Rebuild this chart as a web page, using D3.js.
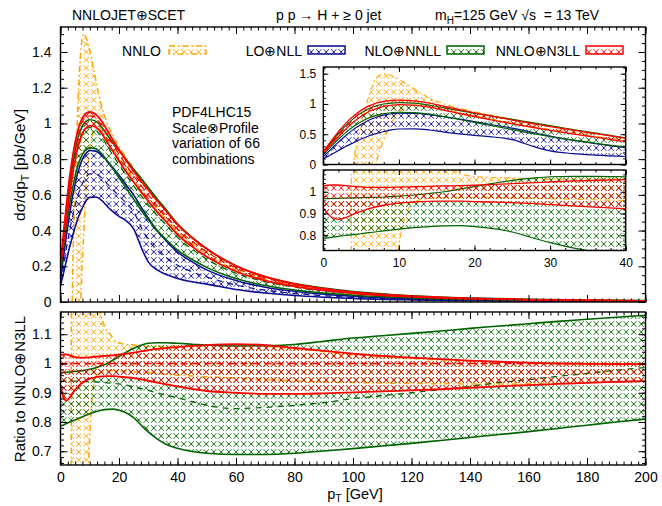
<!DOCTYPE html>
<html>
<head>
<meta charset="utf-8">
<script src="https://cdn.jsdelivr.net/npm/d3@7"></script>
<style>
body { margin: 0; background: #fff; }
text { font-family: "Liberation Sans", Arial, sans-serif; }
</style>
</head>
<body>
<svg id="chart" width="662" height="506"></svg>
<script>
// ---- data ----
// absolute spectrum dsigma/dpT [pb/GeV]
var ptAbs = [0,1,2,3,4,5,6,7,8,9,10,12,14,16,18,20,22,25,28,30,33,36,40,45,50,60,70,80,90,100,120,140,160,180,200];

var n3llHi  = [0.211,0.381,0.541,0.684,0.8,0.894,0.964,1.013,1.044,1.059,1.064,1.052,1.015,0.96,0.905,0.853,0.804,0.733,0.669,0.627,0.567,0.511,0.433,0.36,0.298,0.203,0.142,0.102,0.075,0.0558,0.0326,0.0202,0.0133,0.0092,0.0064];
var n3llMid = [0.205,0.37,0.525,0.665,0.78,0.875,0.945,0.993,1.024,1.038,1.042,1.028,0.99,0.935,0.88,0.828,0.778,0.707,0.642,0.6,0.54,0.485,0.41,0.34,0.28,0.19,0.134,0.097,0.072,0.054,0.032,0.02,0.0133,0.0092,0.0064];
var n3llLo  = [0.19,0.327,0.458,0.587,0.7,0.796,0.871,0.92,0.96,0.978,0.988,0.98,0.946,0.895,0.842,0.791,0.741,0.672,0.607,0.565,0.505,0.451,0.378,0.31,0.254,0.171,0.12,0.087,0.0647,0.0487,0.029,0.0183,0.0123,0.0086,0.006];

var nnllHi  = [0.198,0.359,0.509,0.646,0.758,0.851,0.92,0.968,0.999,1.015,1.021,1.013,0.982,0.935,0.891,0.848,0.806,0.744,0.683,0.641,0.578,0.519,0.438,0.362,0.298,0.201,0.142,0.103,0.0775,0.0587,0.0353,0.0224,0.0151,0.0106,0.0075];
var nnllMid = [0.193,0.348,0.494,0.625,0.733,0.823,0.887,0.932,0.96,0.973,0.977,0.963,0.927,0.873,0.82,0.77,0.721,0.65,0.586,0.545,0.485,0.433,0.362,0.296,0.24,0.161,0.114,0.083,0.0624,0.0475,0.0288,0.0184,0.0126,0.0089,0.0063];
var nnllLo  = [0.161,0.292,0.417,0.531,0.626,0.706,0.767,0.81,0.84,0.855,0.863,0.858,0.832,0.788,0.743,0.696,0.648,0.576,0.504,0.46,0.401,0.351,0.291,0.238,0.194,0.131,0.092,0.067,0.05,0.038,0.0233,0.0149,0.0102,0.0073,0.0052];

var nllHi   = [0.13,0.25,0.37,0.48,0.58,0.66,0.73,0.78,0.815,0.838,0.848,0.845,0.825,0.79,0.75,0.71,0.665,0.6,0.52,0.47,0.4,0.345,0.28,0.225,0.18,0.12,0.083,0.06,0.044,0.033,0.019,0.012,0.008,0.0055,0.004];
var nllMid  = [0.11,0.2,0.3,0.39,0.47,0.54,0.6,0.645,0.68,0.705,0.717,0.716,0.697,0.662,0.627,0.595,0.562,0.505,0.405,0.35,0.29,0.25,0.206,0.169,0.14,0.095,0.066,0.048,0.035,0.026,0.015,0.0098,0.0065,0.0045,0.0032];
var nllLo   = [0.09,0.16,0.23,0.3,0.36,0.42,0.47,0.51,0.545,0.572,0.586,0.588,0.57,0.535,0.505,0.48,0.46,0.41,0.29,0.225,0.18,0.155,0.132,0.113,0.1,0.07,0.05,0.036,0.027,0.02,0.012,0.0075,0.005,0.0034,0.0024];

// fixed-order NNLO (diverges at small pT)
var ptNnlo = [3.8,4,5,6,7,8,9,10,11,12,13,14,16,18,20,22,25,28,30,33,36,40,45,50,60,70,80,90,100,120,140,160,180,200];
var nnloHi = [-0.3,0.0,0.62,1.12,1.42,1.5,1.47,1.41,1.33,1.25,1.17,1.1,1.0,0.93,0.87,0.82,0.75,0.685,0.642,0.578,0.52,0.438,0.361,0.298,0.202,0.142,0.102,0.076,0.056,0.033,0.0203,0.0134,0.0092,0.0064];
var nnloLo = [-3,-3,-2.4,-1.0,0.0,0.4,0.68,0.86,0.94,0.975,0.985,0.965,0.91,0.858,0.807,0.757,0.688,0.623,0.582,0.523,0.467,0.394,0.325,0.267,0.18,0.126,0.091,0.067,0.05,0.0298,0.019,0.0124,0.0086,0.006];

// ratio to NNLO+N3LL central
var ptRatio = [0,1,2,3,4,5,6,8,10,12,14,16,18,20,22,25,28,30,33,36,40,45,50,60,70,80,90,100,110,120,130,140,150,160,170,180,190,200];
var n3llHiR = [1.028,1.031,1.031,1.028,1.025,1.022,1.02,1.02,1.021,1.023,1.025,1.027,1.028,1.03,1.033,1.037,1.042,1.045,1.05,1.053,1.056,1.06,1.063,1.066,1.063,1.053,1.043,1.034,1.026,1.02,1.015,1.01,1.006,1.003,1.0,0.999,0.998,0.998];
var n3llLoR = [0.926,0.885,0.873,0.882,0.897,0.91,0.922,0.938,0.948,0.953,0.956,0.957,0.957,0.955,0.953,0.95,0.945,0.941,0.935,0.929,0.922,0.913,0.906,0.9,0.896,0.896,0.898,0.901,0.905,0.908,0.912,0.917,0.922,0.926,0.93,0.934,0.937,0.94];
var nnllHiR = [0.968,0.969,0.97,0.971,0.972,0.973,0.974,0.976,0.98,0.985,0.992,1.0,1.012,1.024,1.036,1.052,1.064,1.069,1.071,1.071,1.069,1.066,1.063,1.06,1.061,1.065,1.076,1.087,1.095,1.103,1.111,1.12,1.128,1.136,1.144,1.151,1.158,1.165];
var nnllMidR = [0.94,0.94,0.94,0.94,0.94,0.94,0.939,0.938,0.938,0.937,0.936,0.934,0.932,0.93,0.927,0.92,0.913,0.908,0.9,0.892,0.883,0.87,0.857,0.846,0.85,0.857,0.866,0.88,0.89,0.9,0.911,0.922,0.935,0.945,0.956,0.966,0.977,0.986];
var nnllLoR = [0.786,0.79,0.795,0.799,0.803,0.807,0.812,0.82,0.828,0.835,0.84,0.843,0.844,0.84,0.833,0.815,0.785,0.766,0.742,0.724,0.71,0.699,0.693,0.689,0.689,0.693,0.701,0.709,0.718,0.727,0.737,0.747,0.757,0.767,0.778,0.789,0.8,0.81];

var ptNnloR = [3.6,3.8,5,8,9,10,11,12,12.5,13,13.6,15,17,19,22,25,30,40,50,60,80,100,150,200];
var nnloHiR = [-3,3,3,3,3,3,3,3,2,1.3,1.18,1.13,1.1,1.075,1.066,1.063,1.058,1.06,1.062,1.064,1.05,1.03,1.005,0.998];
var nnloLoR = [-3,-3,-3,-1,0.4,0.75,0.9,0.95,0.96,0.965,0.968,0.972,0.975,0.975,0.974,0.972,0.968,0.96,0.955,0.95,0.94,0.935,0.93,0.94];

var cOrange = "#ffa500", cBlue = "#0c0c94", cGreen = "#006400", cRed = "#ff0000";
var font = "Liberation Sans, Arial, sans-serif";

var svg = d3.select("#chart");
var defs = svg.append("defs");

// cross-hatch fills
function hatch(id, color) {
  var p = defs.append("pattern")
    .attr("id", id)
    .attr("patternUnits", "userSpaceOnUse")
    .attr("width", 7.5).attr("height", 8);
  p.append("path")
    .attr("d", "M1,1.2L6.5,6.8M6.5,1.2L1,6.8")
    .attr("stroke", color).attr("stroke-width", 0.9).attr("fill", "none");
}
hatch("hO", cOrange); hatch("hB", cBlue); hatch("hG", cGreen); hatch("hR", cRed);

function clip(id, x0, y0, x1, y1) {
  defs.append("clipPath").attr("id", id)
    .append("rect").attr("x", x0).attr("y", y0).attr("width", x1 - x0).attr("height", y1 - y0);
}

// panel geometry
var L = 60.5, R = 645.5;
var mainT = 27, mainB = 302, ratT = 312, ratB = 465;
var inL = 323.3, inR = 625.7, inUT = 67, inUB = 164.5, inLT = 170, inLB = 250.5;

var x = d3.scaleLinear().domain([0, 200]).range([L, R]);
var yMain = d3.scaleLinear().domain([0, 1.54]).range([mainB, mainT]);
var yRat = d3.scaleLinear().domain([0.653, 1.176]).range([ratB, ratT]);
var xIn = d3.scaleLinear().domain([0, 40]).range([inL, inR]);
var yInU = d3.scaleLinear().domain([0, 1.61]).range([inUB, inUT]);
var yInL = d3.scaleLinear().domain([0.73, 1.1]).range([inLB, inLT]);

clip("cMain", L, mainT, R, mainB);
clip("cRat", L, ratT, R, ratB);
clip("cInU", inL, inUT, inR, inUB);
clip("cInL", inL, inLT, inR, inLB);

function band(g, xs, lo, hi, sx, sy, color, pat, lw, dash) {
  var d = xs.map(function(v, i) { return {x: v, lo: lo[i], hi: hi[i]}; });
  var area = d3.area().curve(d3.curveMonotoneX)
    .x(function(p) { return sx(p.x); })
    .y0(function(p) { return sy(p.lo); })
    .y1(function(p) { return sy(p.hi); });
  g.append("path").datum(d).attr("d", area).attr("fill", "url(#" + pat + ")");
  ["lo", "hi"].forEach(function(k) {
    g.append("path").datum(d)
      .attr("d", d3.line().curve(d3.curveMonotoneX)
        .x(function(p) { return sx(p.x); })
        .y(function(p) { return sy(p[k]); }))
      .attr("fill", "none").attr("stroke", color)
      .attr("stroke-width", lw).attr("stroke-dasharray", dash || null);
  });
}

function central(g, xs, ys, sx, sy, color, lw) {
  g.append("path").datum(xs.map(function(v, i) { return [v, ys[i]]; }))
    .attr("d", d3.line().curve(d3.curveMonotoneX)
      .x(function(p) { return sx(p[0]); })
      .y(function(p) { return sy(p[1]); }))
    .attr("fill", "none").attr("stroke", color)
    .attr("stroke-width", lw).attr("stroke-dasharray", "6,5");
}

var dd = "6,3,1.5,3"; // dash-dot for NNLO

// ---- main panel ----
var gMain = svg.append("g").attr("clip-path", "url(#cMain)");
band(gMain, ptNnlo, nnloLo, nnloHi, x, yMain, cOrange, "hO", 1.5, dd);
band(gMain, ptAbs, nllLo, nllHi, x, yMain, cBlue, "hB", 1.6);
central(gMain, ptAbs, nllMid, x, yMain, cBlue, 1.2);
band(gMain, ptAbs, nnllLo, nnllHi, x, yMain, cGreen, "hG", 1.6);
central(gMain, ptAbs, nnllMid, x, yMain, cGreen, 1.2);
band(gMain, ptAbs, n3llLo, n3llHi, x, yMain, cRed, "hR", 1.8);
central(gMain, ptAbs, n3llMid, x, yMain, cRed, 1.2);

// ---- ratio panel ----
var gRat = svg.append("g").attr("clip-path", "url(#cRat)");
band(gRat, ptNnloR, nnloLoR, nnloHiR, x, yRat, cOrange, "hO", 1.5, dd);
band(gRat, ptRatio, nnllLoR, nnllHiR, x, yRat, cGreen, "hG", 1.6);
central(gRat, ptRatio, nnllMidR, x, yRat, cGreen, 1.3);
band(gRat, ptRatio, n3llLoR, n3llHiR, x, yRat, cRed, "hR", 1.8);
gRat.append("line").attr("x1", x(0)).attr("x2", x(200)).attr("y1", yRat(1)).attr("y2", yRat(1))
  .attr("stroke", cRed).attr("stroke-width", 1.5).attr("stroke-dasharray", "7,5");

// ---- inset ----
svg.append("rect").attr("x", inL).attr("y", inUT).attr("width", inR - inL).attr("height", inUB - inUT).attr("fill", "#fff");
svg.append("rect").attr("x", inL).attr("y", inLT).attr("width", inR - inL).attr("height", inLB - inLT).attr("fill", "#fff");

var gInU = svg.append("g").attr("clip-path", "url(#cInU)");
band(gInU, ptNnlo, nnloLo, nnloHi, xIn, yInU, cOrange, "hO", 1.1, dd);
band(gInU, ptAbs, nllLo, nllHi, xIn, yInU, cBlue, "hB", 1.2);
band(gInU, ptAbs, nnllLo, nnllHi, xIn, yInU, cGreen, "hG", 1.2);
band(gInU, ptAbs, n3llLo, n3llHi, xIn, yInU, cRed, "hR", 1.3);

var gInL = svg.append("g").attr("clip-path", "url(#cInL)");
band(gInL, ptNnloR, nnloLoR, nnloHiR, xIn, yInL, cOrange, "hO", 1.1, dd);
band(gInL, ptRatio, nnllLoR, nnllHiR, xIn, yInL, cGreen, "hG", 1.2);
band(gInL, ptRatio, n3llLoR, n3llHiR, xIn, yInL, cRed, "hR", 1.3);

// ---- axes: inward ticks on all four sides ----
function fmt(d) { return String(+d.toFixed(2)); }

function frame(sx, sy, x0, x1, y0, y1, o) {
  var g = svg.append("g");
  var sets = [
    {vals: o.xMaj, len: o.tl, lab: o.xLab}, {vals: o.xMin, len: o.tl / 2, lab: false}
  ];
  sets.forEach(function(s) {
    g.append("g").attr("transform", "translate(0," + y1 + ")")
      .call(d3.axisBottom(sx).tickValues(s.vals).tickSize(-s.len).tickPadding(o.px)
        .tickFormat(s.lab ? fmt : ""))
      .call(function(a) { a.select(".domain").remove(); });
    g.append("g").attr("transform", "translate(0," + y0 + ")")
      .call(d3.axisTop(sx).tickValues(s.vals).tickSize(-s.len).tickFormat(""))
      .call(function(a) { a.select(".domain").remove(); });
  });
  [{vals: o.yMaj, len: o.tl, lab: true}, {vals: o.yMin, len: o.tl / 2, lab: false}].forEach(function(s) {
    g.append("g").attr("transform", "translate(" + x0 + ",0)")
      .call(d3.axisLeft(sy).tickValues(s.vals).tickSize(-s.len).tickPadding(o.py)
        .tickFormat(s.lab ? fmt : ""))
      .call(function(a) { a.select(".domain").remove(); });
    g.append("g").attr("transform", "translate(" + x1 + ",0)")
      .call(d3.axisRight(sy).tickValues(s.vals).tickSize(-s.len).tickFormat(""))
      .call(function(a) { a.select(".domain").remove(); });
  });
  g.selectAll("g").attr("font-family", font).attr("font-size", o.fs);
  g.selectAll("text").attr("fill", "#000");
  g.selectAll("line").attr("stroke", "#000").attr("stroke-width", 1);
  g.append("rect").attr("x", x0).attr("y", y0).attr("width", x1 - x0).attr("height", y1 - y0)
    .attr("fill", "none").attr("stroke", "#000").attr("stroke-width", 1.4);
}

var xMaj = d3.range(0, 201, 20), xMin = d3.range(0, 200.1, 2.5);
frame(x, yMain, L, R, mainT, mainB, {
  xMaj: xMaj, xMin: xMin, xLab: false,
  yMaj: [0, 0.2, 0.4, 0.6, 0.8, 1, 1.2, 1.4], yMin: d3.range(0, 1.54, 0.05),
  tl: 7, px: 10, py: 9, fs: 14
});
frame(x, yRat, L, R, ratT, ratB, {
  xMaj: xMaj, xMin: xMin, xLab: true,
  yMaj: [0.7, 0.8, 0.9, 1, 1.1], yMin: d3.range(0.66, 1.176, 0.02),
  tl: 7, px: 7, py: 9, fs: 14
});
frame(xIn, yInU, inL, inR, inUT, inUB, {
  xMaj: d3.range(0, 41, 10), xMin: d3.range(0, 40.1, 2), xLab: false,
  yMaj: [0, 0.5, 1, 1.5], yMin: d3.range(0, 1.61, 0.1),
  tl: 5, px: 8, py: 7, fs: 12
});
frame(xIn, yInL, inL, inR, inLT, inLB, {
  xMaj: d3.range(0, 41, 10), xMin: d3.range(0, 40.1, 2), xLab: true,
  yMaj: [0.8, 0.9, 1], yMin: d3.range(0.74, 1.1, 0.02),
  tl: 5, px: 8, py: 7, fs: 12
});

// ---- texts ----
function txt(xp, yp, s, size, anchor) {
  return svg.append("text").attr("x", xp).attr("y", yp)
    .attr("font-size", size).attr("text-anchor", anchor || "start").attr("fill", "#000").text(s);
}
txt(72, 20, "NNLOJET\u2295SCET", 14);
txt(276, 20, "p p \u2192 H + \u2265 0 jet", 14);
var mh = svg.append("text").attr("x", 435).attr("y", 20).attr("font-size", 14).attr("fill", "#000");
mh.append("tspan").text("m");
mh.append("tspan").attr("font-size", 10).attr("dy", 4).text("H");
mh.append("tspan").attr("dy", -4).text("=125 GeV \u221As  = 13 TeV").attr("xml:space", "preserve");

["PDF4LHC15", "Scale\u2297Profile", "variation of 66", "combinations"].forEach(function(s, i) {
  txt(172, 117 + i * 15.6, s, 14);
});

// legend
var legend = [
  {label: "NNLO", end: 161, sx: 169, color: cOrange, pat: "hO", dash: dd},
  {label: "LO\u2295NLL", end: 302, sx: 308, color: cBlue, pat: "hB"},
  {label: "NLO\u2295NNLL", end: 441, sx: 447, color: cGreen, pat: "hG"},
  {label: "NNLO\u2295N3LL", end: 580, sx: 586, color: cRed, pat: "hR"}
];
legend.forEach(function(l) {
  txt(l.end, 56, l.label, 14, "end");
  svg.append("rect").attr("x", l.sx).attr("y", 46).attr("width", 37).attr("height", 8)
    .attr("fill", "url(#" + l.pat + ")").attr("stroke", l.color).attr("stroke-width", 1.5)
    .attr("stroke-dasharray", l.dash || null);
});

// axis titles
var yl = svg.append("text").attr("transform", "translate(25,165) rotate(-90)")
  .attr("text-anchor", "middle").attr("font-size", 15.5).attr("fill", "#000");
yl.append("tspan").text("d\u03c3/dp");
yl.append("tspan").attr("font-size", 11).attr("dy", 4).text("T");
yl.append("tspan").attr("dy", -4).text(" [pb/GeV]");

svg.append("text").attr("transform", "translate(25,389) rotate(-90)")
  .attr("text-anchor", "middle").attr("font-size", 15).attr("fill", "#000")
  .text("Ratio to NNLO\u2295N3LL");

var xl = svg.append("text").attr("x", 355).attr("y", 499).attr("text-anchor", "middle")
  .attr("font-size", 14.5).attr("fill", "#000");
xl.append("tspan").text("p");
xl.append("tspan").attr("font-size", 10.5).attr("dy", 2.5).text("T");
xl.append("tspan").attr("dy", -2.5).text(" [GeV]");
</script>
</body>
</html>
